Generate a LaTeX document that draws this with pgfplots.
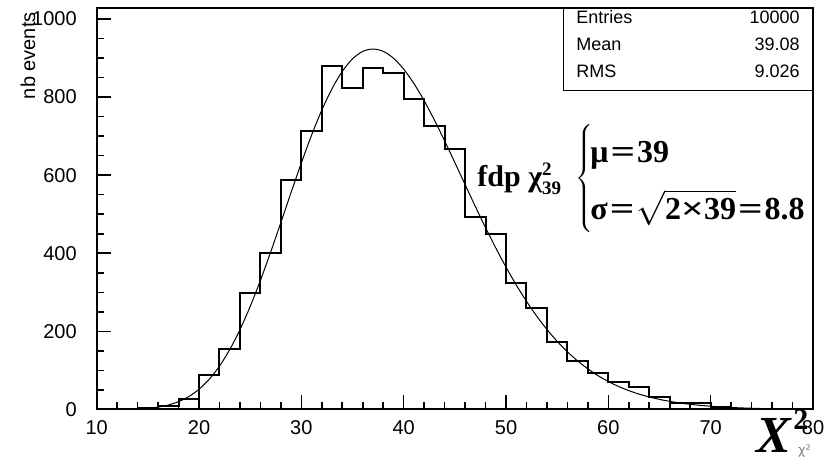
\documentclass[border=0pt]{standalone}
\usepackage{graphicx}
\usepackage{fontspec}
\setmainfont{Liberation Sans}
\newfontfamily\tnr{Liberation Serif}
\newfontfamily\dejavu{DejaVu Sans}
\usepackage{pgfplots}
\pgfplotsset{compat=1.18}
\newcommand{\bigbrace}{\ensuremath{\left\{\rule[-24pt]{0pt}{48pt}\right.}}
\newcommand{\beq}{\kern1pt\scalebox{1.35}[1]{=}\kern1pt}
\newcommand{\btimes}{\scalebox{1.25}[1]{×}}
\begin{document}
\begin{tikzpicture}[x=1pt,y=1pt]
\useasboundingbox (0,0) rectangle (417,229);
\begin{axis}[at={(48.35pt,24.25pt)}, anchor=south west, scale only axis,
  width=358.15pt, height=200.75pt,
  xmin=10, xmax=80, ymin=0, ymax=1028,
  xtick={10,20,...,80}, ytick={0,200,...,1000},
  minor x tick num=4, minor y tick num=3,
  tick pos=left, tick align=inside,
  major tick length=7pt, minor tick length=3.75pt,
  axis line style={line width=1pt},
  tick style={black, line width=0.8pt},
  tick label style={font=\fontsize{10}{12}\selectfont},
  yticklabel style={xshift=-6.5pt},
  xticklabel style={yshift=-1.8pt},
  /pgf/number format/assume math mode=true,
  /pgf/number format/1000 sep={},
  clip=false]
\addplot[const plot, black, line width=1pt] coordinates {
(10,0) (12,0) (14,3) (16,10) (18,27) (20,88) (22,154) (24,298) (26,400)
(28,588) (30,714) (32,879) (34,823) (36,875) (38,862) (40,794) (42,727)
(44,668) (46,494) (48,449) (50,325) (52,260) (54,172) (56,123) (58,93)
(60,70) (62,58) (64,33) (66,17) (68,16) (70,7) (72,2) (74,1) (76,0) (78,0) (80,0)};
\addplot[black, line width=0.5pt, smooth] coordinates {
(15,3.08) (16,6.17) (17,11.48) (18,20.04) (19,33.06) (20,51.79) (21,77.46)
(22,111.09) (23,153.35) (24,204.4) (25,263.9) (26,330.6) (27,403.1) (28,478.9)
(29,556.0) (30,631.4) (31,702.5) (32,766.6) (33,821.6) (34,865.7) (35,897.7)
(36,916.9) (37,922.9) (38,917.1) (39,899.5) (40,871.4) (41,834.6) (42,790.6)
(43,741.1) (44,687.7) (45,632.2) (46,575.8) (47,519.9) (48,465.5) (49,413.6)
(50,364.5) (51,318.9) (52,277.1) (53,239.0) (54,204.9) (55,174.5) (56,147.7)
(57,124.3) (58,104.0) (59,86.53) (60,71.62) (61,58.97) (62,48.33) (63,39.41)
(64,31.99) (65,25.85) (66,20.79) (67,16.66) (68,13.29) (69,10.55) (70,8.36)
(71,6.59) (72,5.18) (73,4.05) (74,3.16) (75,2.46)};
\end{axis}
% stats box
\draw[line width=0.8pt, fill=white] (281.65,183.75) rectangle (406.5,225);
\begin{scope}[every node/.style={inner sep=0pt, font=\fontsize{9}{11}\selectfont}]
\node[anchor=west] at (288,220.5) {Entries};
\node[anchor=east] at (400,220.5) {10000};
\node[anchor=west] at (288,207) {Mean};
\node[anchor=east] at (400,207) {39.08};
\node[anchor=west] at (288,193.5) {RMS};
\node[anchor=east] at (400,193.5) {9.026};
\end{scope}
% y label
\node[rotate=90, anchor=east, inner sep=0pt, font=\fontsize{10}{12}\selectfont] at (14,223) {nb events};
% formula
\node[anchor=base west, inner sep=0pt] at (238.5,135.5) {\tnr\bfseries\fontsize{15}{18}\selectfont fdp χ\rlap{\raisebox{5.5pt}{\fontsize{9.5}{10}\selectfont 2}}\raisebox{-3.8pt}{\fontsize{9.5}{10}\selectfont 39}};
\node[anchor=west, inner sep=0pt, font=\fontsize{16}{18}\selectfont] at (287.5,139) {\bigbrace};
\node[anchor=base west, inner sep=0pt, font=\tnr\bfseries\fontsize{16}{18}\selectfont] at (295,147.5) {μ\beq 39};
\node[anchor=base west, inner sep=0pt, font=\tnr\bfseries\fontsize{16}{18}\selectfont] at (295,119) {σ\beq$\sqrt{\mbox{2\btimes 39}}$\beq 8.8};
% x label
\node[anchor=base west, inner sep=0pt] at (378,2.5) {\tnr\bfseries\itshape\fontsize{26}{26}\selectfont X};
\node[anchor=base west, inner sep=0pt] at (396.5,14) {\tnr\bfseries\fontsize{15}{15}\selectfont 2};
\node[inner sep=0pt, text=gray] at (402.25,3.5) {\dejavu\fontsize{6.5}{7}\selectfont χ²};
\end{tikzpicture}
\end{document}
